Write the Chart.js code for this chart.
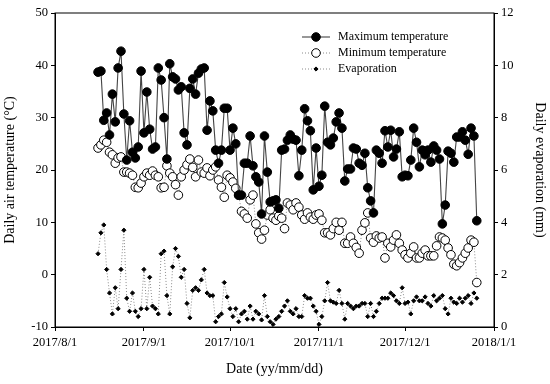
<!DOCTYPE html>
<html>
<head>
<meta charset="utf-8">
<script src="https://cdn.jsdelivr.net/npm/chart.js@4"></script>
<style>
  html, body { margin: 0; padding: 0; background: #fff; }
</style>
</head>
<body>
<canvas id="climateChart" width="550" height="384"></canvas>
<script>
// day 0 = 2017/8/1, first record on 2017/8/16, one record per day
const firstDay = 15;
const tickDays = [0, 31, 61, 92, 122, 153];
const tickLabels = ["2017/8/1", "2017/9/1", "2017/10/1", "2017/11/1", "2017/12/1", "2018/1/1"];

const maxTemp = [
  38.7, 38.9, 29.5, 30.9, 26.7, 34.5, 29.2, 39.5, 42.7, 30.7,
  21.9, 29.4, 23.4, 22.3, 24.4, 38.9, 27.1, 34.9, 27.8, 24.0,
  24.4, 39.5, 37.2, 30.0, 22.1, 40.3, 37.8, 37.4, 35.3, 35.9,
  27.1, 24.8, 35.6, 37.4, 34.5, 38.5, 39.3, 39.5, 27.6, 33.2,
  31.3, 23.8, 21.3, 23.8, 31.8, 31.8, 23.8, 28.0, 25.0,
  15.2, 15.2, 21.3, 21.3, 26.5, 20.8, 18.7, 17.7, 11.6, 26.5,
  19.6, 13.9, 14.1, 14.3, 12.7, 23.8, 24.0, 25.7, 26.7, 25.9,
  25.7, 18.9, 23.8, 31.7, 29.4, 27.5, 16.2, 24.2, 16.9, 19.0,
  32.2, 25.3, 24.8, 26.1, 29.2, 30.9, 28.0, 17.9, 20.2, 20.2,
  24.2, 24.0, 21.3, 20.9, 23.2, 16.6, 14.1, 11.8, 23.8, 23.2,
  21.3, 27.5, 24.4, 27.6, 22.5, 24.0, 27.3, 18.7, 19.0,
  18.9, 21.9, 28.0, 25.3, 20.6, 23.8, 22.9, 23.8,
  21.5, 24.6, 23.8, 22.1, 9.7, 13.3, 23.6, 23.2, 21.5, 26.3, 26.3,
  27.3, 25.7, 23.0, 28.0, 26.5, 10.3
];

const minTemp = [
  24.2, 24.8, 25.7, 25.3, 23.4, 22.9, 21.3, 22.3, 22.5, 19.6,
  19.6, 19.4, 19.0, 16.7, 16.6, 17.5,
  18.7, 19.4, 19.0, 19.8, 19.0, 18.7, 16.6, 16.7, 20.8, 19.4, 18.7, 17.2,
  15.2, 18.7, 20.0, 21.0, 22.1, 20.5, 18.7, 21.9, 19.6, 19.4,
  20.4, 18.9, 20.0, 20.6, 18.1, 16.7, 14.8, 19.0, 18.5, 17.7, 16.5,
  15.2, 12.1, 11.6, 10.8, 14.3, 15.2, 9.7, 8.0, 6.8, 8.5,
  11.4, 12.4, 10.8, 10.4, 11.2,
  10.8, 8.8, 13.7, 13.3, 12.4, 13.7, 12.9, 11.4, 10.6, 11.8,
  11.0, 10.6, 11.4, 11.6, 10.4, 8.0, 8.0, 7.6, 8.8,
  10.0, 8.5, 10.0, 6.0, 6.0, 7.2, 6.0, 5.2,
  4.1, 8.5, 9.9, 11.8, 7.0, 6.2, 7.4, 7.0, 7.2, 3.2, 6.0, 5.3, 6.6, 7.6, 6.0,
  4.7, 3.8, 3.2, 4.1, 5.3, 3.2, 3.2, 4.1, 4.7, 3.6, 3.6, 3.6, 5.5,
  7.2, 7.0, 6.6, 5.1, 3.8, 2.0, 1.7, 2.3, 3.2, 4.1, 5.1, 6.6, 6.2, -1.5
];

const evaporation = [
  2.8, 3.6, 3.9, 2.2, 1.3, 0.5, 1.5, 0.7, 2.2, 3.7,
  1.1, 0.6, 1.3, 0.6, 0.4, 0.7, 2.2, 0.7, 1.9, 0.8,
  0.7, 0.5, 2.8, 2.9, 1.2, 0.5, 2.3, 3.0, 2.7, 1.9,
  2.2, 0.9, 0.35, 1.4, 1.5, 1.4, 1.8, 2.2, 1.3, 1.2,
  1.2, 0.2, 0.4, 0.5, 1.7, 1.15, 0.7, 0.4, 0.7, 0.2,
  0.5, 0.6, 0.3, 0.8, 0.3, 0.6, 0.5, 0.27, 1.2, 0.4,
  0.2, 0.1, 0.3, 0.4, 0.6, 0.8, 1.0, 0.6, 0.5, 0.7,
  0.4, 0.4, 1.2, 1.1, 1.1, 0.8, 0.6, 0.1, 0.4, 1.0,
  1.7, 1.0, 0.95, 0.9, 1.4, 0.9, 0.3, 0.9, 0.8, 0.7,
  0.8, 0.8, 0.9, 0.9, 0.4, 0.9, 0.4, 0.6, 0.9, 1.1, 1.1,
  1.1, 1.3, 1.2, 1.0, 0.9, 1.5, 0.9, 0.95, 0.5, 1.0,
  1.15, 1.0, 1.0, 1.15, 0.9, 0.8, 1.2, 1.0, 1.1, 1.2, 0.7,
  0.5, 1.1, 0.95, 0.9, 1.1, 0.95, 1.1, 1.2, 0.9, 1.3, 1.1
];

function toPoints(values) {
  return values.map((v, i) => ({ x: firstDay + i, y: v }));
}

Chart.defaults.font.family = "'Liberation Serif', 'Times New Roman', serif";
Chart.defaults.font.size = 12.5;
Chart.defaults.color = "#000";

// box round the plot area
const frame = {
  id: "frame",
  afterDatasetsDraw(chart) {
    const a = chart.chartArea;
    const ctx = chart.ctx;
    ctx.save();
    ctx.strokeStyle = "#000";
    ctx.lineWidth = 1;
    ctx.strokeRect(a.left, a.top, a.right - a.left, a.bottom - a.top);
    ctx.restore();
  }
};

// legend inside the plot, top right
const innerLegend = {
  id: "innerLegend",
  afterDraw(chart) {
    const ctx = chart.ctx;
    const x0 = 302, x1 = 330, tx = 338;
    chart.data.datasets.forEach((ds, i) => {
      const y = 37 + i * 16;
      ctx.save();
      ctx.strokeStyle = ds.borderColor;
      ctx.lineWidth = ds.borderWidth;
      ctx.setLineDash(ds.borderDash || []);
      ctx.beginPath();
      ctx.moveTo(x0, y);
      ctx.lineTo(x1, y);
      ctx.stroke();
      ctx.setLineDash([]);
      ctx.fillStyle = ds.pointBackgroundColor;
      ctx.strokeStyle = ds.pointBorderColor;
      ctx.lineWidth = 1;
      const cx = (x0 + x1) / 2, r = ds.pointRadius;
      ctx.beginPath();
      if (ds.pointStyle === "rectRot") {
        ctx.moveTo(cx, y - r); ctx.lineTo(cx + r, y); ctx.lineTo(cx, y + r); ctx.lineTo(cx - r, y);
        ctx.closePath();
      } else {
        ctx.arc(cx, y, r, 0, Math.PI * 2);
      }
      ctx.fill();
      ctx.stroke();
      ctx.fillStyle = "#000";
      ctx.font = "12px 'Liberation Serif', serif";
      ctx.textBaseline = "middle";
      ctx.fillText(ds.label, tx, y);
      ctx.restore();
    });
  }
};

new Chart("climateChart", {
  type: "line",
  data: {
    datasets: [
      {
        label: "Maximum temperature",
        data: toPoints(maxTemp),
        yAxisID: "y",
        borderColor: "#444",
        borderWidth: 1.1,
        pointStyle: "circle",
        pointRadius: 4.3,
        pointBackgroundColor: "#000",
        pointBorderColor: "#000",
        pointBorderWidth: 1,
        order: 0
      },
      {
        label: "Minimum temperature",
        data: toPoints(minTemp),
        yAxisID: "y",
        borderColor: "#8a8a8a",
        borderWidth: 1,
        borderDash: [1, 2],
        pointStyle: "circle",
        pointRadius: 4.3,
        pointBackgroundColor: "#fff",
        pointBorderColor: "#000",
        pointBorderWidth: 1,
        order: 1
      },
      {
        label: "Evaporation",
        data: toPoints(evaporation),
        yAxisID: "y1",
        borderColor: "#8a8a8a",
        borderWidth: 1,
        borderDash: [1, 2],
        pointStyle: "rectRot",
        pointRadius: 2.1,
        pointBackgroundColor: "#000",
        pointBorderColor: "#000",
        pointBorderWidth: 1,
        order: 2
      }
    ]
  },
  options: {
    responsive: false,
    animation: false,
    layout: { padding: { top: 13, left: 0, right: 0, bottom: 0 } },
    plugins: {
      legend: { display: false },
      tooltip: { enabled: false }
    },
    scales: {
      x: {
        type: "linear",
        min: 0,
        max: 153,
        afterBuildTicks(scale) {
          scale.ticks = tickDays.map(v => ({ value: v }));
        },
        afterFit(scale) { scale.height = 57; },
        ticks: {
          autoSkip: false,
          maxRotation: 0,
          padding: 4,
          callback: (value) => tickLabels[tickDays.indexOf(value)]
        },
        grid: { drawOnChartArea: false, tickLength: 4, color: "#000" },
        border: { color: "#000" },
        title: { display: true, text: "Date (yy/mm/dd)", font: { size: 14 }, padding: { top: 0, bottom: 6 } }
      },
      y: {
        position: "left",
        min: -10,
        max: 50,
        afterFit(scale) { scale.width = 55; },
        ticks: { stepSize: 10, padding: 3 },
        grid: { drawOnChartArea: false, tickLength: 4, color: "#000" },
        border: { color: "#000" },
        title: { display: true, text: "Daily air temperature (°C)", font: { size: 14 }, padding: { top: 2, bottom: 2 } }
      },
      y1: {
        position: "right",
        min: 0,
        max: 12,
        afterFit(scale) { scale.width = 56; },
        ticks: { stepSize: 2, padding: 3 },
        grid: { drawOnChartArea: false, tickLength: 4, color: "#000" },
        border: { color: "#000" },
        title: { display: true, text: "Daily evaporation (mm)", font: { size: 14 }, padding: { top: 2, bottom: 2 } }
      }
    }
  },
  plugins: [frame, innerLegend]
});
</script>
</body>
</html>
